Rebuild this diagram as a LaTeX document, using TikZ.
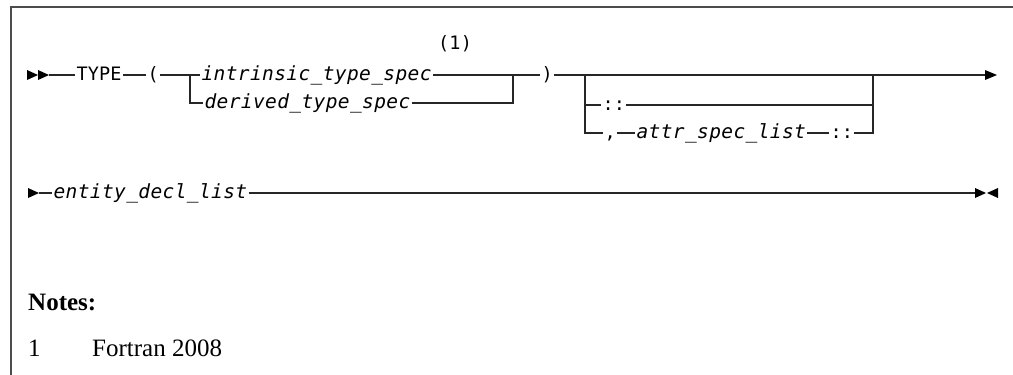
\documentclass[tikz,border=0pt]{standalone}
\usepackage{fontspec}
\newfontfamily\kwfont[LetterSpace=1]{DejaVu Sans Mono}
\newfontfamily\varfont[LetterSpace=2]{DejaVu Sans Mono}
\newfontfamily\notefont{Liberation Serif}
\begin{document}
\begin{tikzpicture}[x=1pt,y=-1pt,
  rail/.style={line width=1.3pt, draw=black!85},
  frame/.style={line width=1.6pt, draw=black!70},
  tipfill/.style={fill=black},
  kw/.style={inner xsep=1.5pt, inner ysep=0pt, outer sep=0pt, text height=14pt, text depth=3pt,
    anchor=west, font={\kwfont\fontsize{18.5}{22}\selectfont}},
  var/.style={kw, font={\varfont\itshape\fontsize{19.5}{23}\selectfont}},
  note/.style={inner sep=0pt, anchor=base west, font={\notefont\fontsize{25}{30}\selectfont}}]
\useasboundingbox (0,0) rectangle (1013,375);
% frame
\draw[frame] (11,375) -- (11,7) -- (1013,7);
% row 1
\coordinate (s1) at (49,75);
\fill[tipfill] (27,70) -- (38,75) -- (27,80) -- cycle;
\fill[tipfill] (38,70) -- (49,75) -- (38,80) -- cycle;
\node[kw] (type) at (75,75) {TYPE};
\node[kw] (lp) at (146,75) {(};
\coordinate (j1) at (190,75);
\node[var] (intr) at (200,75) {intrinsic\_type\_spec};
\node[var] (der) at (203,103) {derived\_type\_spec};
\node[kw, anchor=center] (n1) at (455,44) {(1)};
\coordinate (j2) at (513,75);
\node[kw] (rp) at (540,75) {)};
\coordinate (j3) at (585,75);
\node[kw] (dc1) at (601,105) {::};
\node[kw] (cm) at (603,133) {,};
\node[var] (attr) at (635,133) {attr\_spec\_list};
\node[kw] (dc2) at (829,133) {::};
\coordinate (j4) at (873,75);
\coordinate (e1) at (985,75);
\fill[tipfill] (985,70) -- (997,75) -- (985,80) -- cycle;
\draw[rail] (s1) -- (type.west);
\draw[rail] (type.east) -- (lp.west);
\draw[rail] (lp.east) -- (intr.west);
\draw[rail] (j1) |- (der.west);
\draw[rail] (intr.east) -- (rp.west);
\draw[rail] (der.east) -| (j2);
\draw[rail] (rp.east) -- (e1);
\draw[rail] (j3) |- (dc1.west);
\draw[rail] (j3) |- (cm.west);
\draw[rail] (cm.east) -- (attr.west);
\draw[rail] (attr.east) -- (dc2.west);
\draw[rail] (dc2.east) -| (j4);
\draw[rail] (dc1.east) -- (dc1.east -| j4);
% row 2
\coordinate (s3) at (39,193);
\fill[tipfill] (28,188) -- (39,193) -- (28,198) -- cycle;
\node[var] (ent) at (52,193) {entity\_decl\_list};
\coordinate (e2) at (975,193);
\fill[tipfill] (975,188) -- (986,193) -- (975,198) -- cycle;
\fill[tipfill] (998,188) -- (987,193) -- (998,198) -- cycle;
\draw[rail] (s3) -- (ent.west);
\draw[rail] (ent.east) -- (e2);
% notes
\node[note] (notes) at (28,310) {\bfseries Notes:};
\node[note] (num) at (28,356) {1};
\node[note] (ftn) at (92,356) {Fortran 2008};
\end{tikzpicture}
\end{document}
